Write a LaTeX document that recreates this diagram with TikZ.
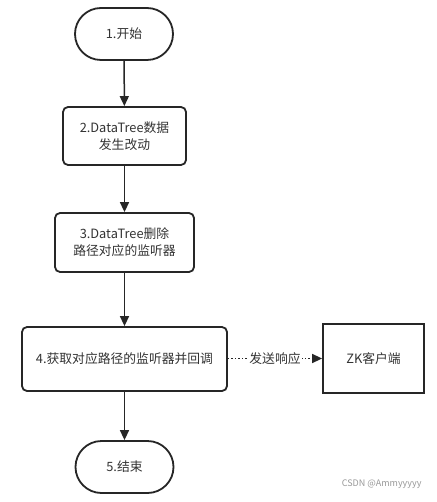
\documentclass[tikz,border=0pt]{standalone}
\usepackage{fontspec}
\setmainfont{Noto Sans CJK SC}
\usetikzlibrary{arrows.meta,shapes.misc}
\begin{document}
\begin{tikzpicture}[x=1pt,y=-1pt,
  font=\fontsize{12.8}{17}\selectfont,
  every node/.style={text=black!80},
  term/.style={draw=black!85,line width=1.8pt,rounded rectangle,minimum width=98pt,minimum height=52pt,inner sep=0pt},
  proc/.style={draw=black!85,line width=1.8pt,rounded corners=5pt,align=center,inner sep=0pt},
  plain/.style={draw=black!85,line width=1.8pt,inner sep=0pt},
  flow/.style={draw=black!85,line width=1.5pt,-{Triangle[length=10pt,width=9pt]}},
  dotflow/.style={draw=black!85,line width=1.5pt,dotted,-{Triangle[length=10pt,width=9pt]}}]
\useasboundingbox[fill=white] (0,0) rectangle (436,502);
\node[term] (s) at (124,34) {1.开始};
\node[proc,minimum width=123pt,minimum height=58pt] (b2) at (124.5,136) {2.DataTree数据\\发生改动};
\node[proc,minimum width=139pt,minimum height=59pt] (b3) at (124.5,242.5) {3.DataTree删除\\路径对应的监听器};
\node[proc,minimum width=205pt,minimum height=64pt] (b4) at (124.5,359) {4.获取对应路径的监听器并回调};
\node[plain,minimum width=101pt,minimum height=69pt] (zk) at (373.5,358.5) {ZK客户端};
\node[term] (e) at (124.5,467) {5.结束};
\draw[flow] (s) -- (b2);
\draw[flow] (b2) -- (b3);
\draw[flow] (b3) -- (b4);
\draw[flow] (b4) -- (e);
\draw[dotflow] (b4.east |- zk.west) -- node[fill=white,inner sep=1pt,font=\fontsize{12.8}{14}\selectfont] (lbl) {发送响应} (zk.west);
\node[text=black!40,font=\fontsize{9}{10}\selectfont,anchor=east] (wm) at (425,484) {CSDN @Ammyyyyy};
\end{tikzpicture}
\end{document}
